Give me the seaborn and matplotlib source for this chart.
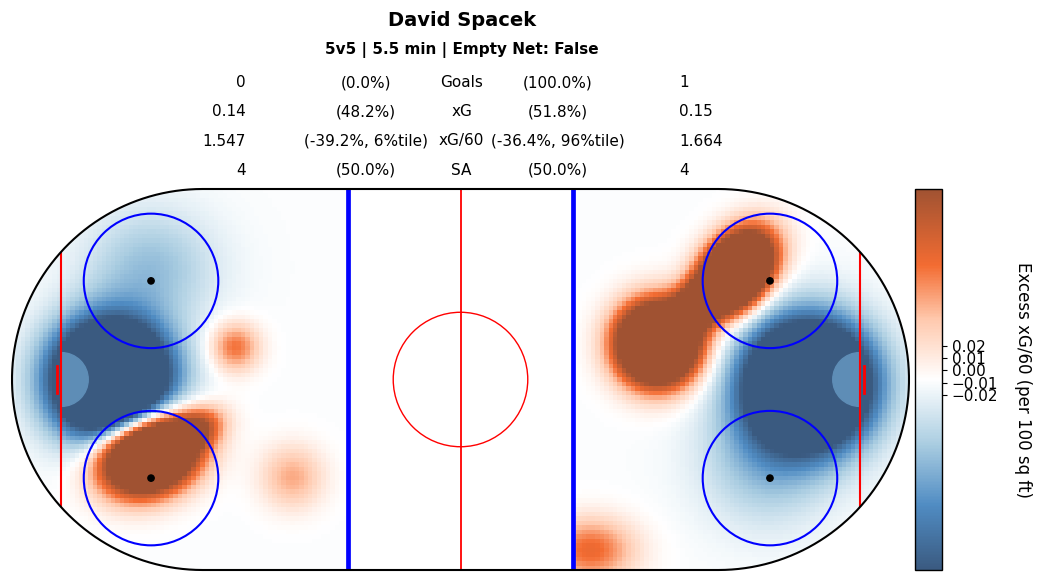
import numpy as np
import pandas as pd
import matplotlib
matplotlib.use('Agg')
import matplotlib.pyplot as plt
import matplotlib.patches as patches
from matplotlib.colors import LinearSegmentedColormap
import seaborn as sns

# header / table text
player = 'David Spacek'
subtitle = '5v5 | 5.5 min | Empty Net: False'
row_labels = ['Goals', 'xG', 'xG/60', 'SA']
left_vals = ['0', '0.14', '1.547', '4']
left_pcts = ['(0.0%)', '(48.2%)', '(-39.2%, 6%tile)', '(50.0%)']
right_pcts = ['(100.0%)', '(51.8%)', '(-36.4%, 96%tile)', '(50.0%)']
right_vals = ['1', '0.15', '1.664', '4']

# hot spots (feet, centre ice = 0,0)
spot_x = [-78.0, -69.0, -50.3, -69.5, -59.0, -37.5,
          77.5, 68.0, 44.0, 61.5, 52.5, 29.0]
spot_y = [0.0, 25.0, 7.2, -16.5, -11.0, -21.8,
          -1.0, -18.0, 8.0, 24.0, 16.5, -38.0]
spot_amp = [-0.5, -0.06, 0.095, 0.5, 0.12, 0.065,
            -0.5, -0.06, 0.5, 0.5, 0.2, 0.1]
spot_sx = [8.6, 10.0, 3.8, 7.2, 4.5, 5.0,
           9.2, 10.0, 6.0, 6.6, 4.5, 7.0]
spot_sy = [8.6, 9.0, 3.8, 5.6, 3.0, 5.0,
           9.2, 10.0, 6.0, 4.6, 3.0, 5.0]
spot_ang = [0, 0, 0, 20, 25, 0,
            0, 0, 0, 52, 50, 0]
baseline = -0.0095

cbar_ticks = [-0.02, -0.01, 0.0, 0.01, 0.02]
vmin, vmax = -0.162, 0.147

cmap = LinearSegmentedColormap.from_list('xg', [
    (0.0, '#3a5a80'), (0.17, '#508cc3'), (0.33, '#aacde1'), (0.5, '#ffffff'),
    (0.66, '#ffc8ac'), (0.8, '#f36c32'), (1.0, '#a05232')])

# 1 ft grid over the rink
xs = np.arange(-99.5, 100, 1.0)
ys = np.arange(42, -43, -1.0)
X, Y = np.meshgrid(xs, ys)
Z = np.full(X.shape, baseline)
for x0, y0, a, sx, sy, ang in zip(spot_x, spot_y, spot_amp, spot_sx, spot_sy, spot_ang):
    t = np.deg2rad(ang)
    u = (X - x0) * np.cos(t) + (Y - y0) * np.sin(t)
    v = -(X - x0) * np.sin(t) + (Y - y0) * np.cos(t)
    Z += a * np.exp(-(u ** 2 / (2 * sx ** 2) + v ** 2 / (2 * sy ** 2)))
Z[np.abs(X) < 25] = np.nan
df = pd.DataFrame(Z)

fig = plt.figure(figsize=(10.41, 5.82), dpi=100)
ax = fig.add_axes([12 / 1041, 12 / 582, 897 / 1041, 381 / 582])
cax = fig.add_axes([915 / 1041, 12 / 582, 27 / 1041, 381 / 582])

sns.heatmap(df, ax=ax, cmap=cmap, vmin=vmin, vmax=vmax, cbar_ax=cax,
            xticklabels=False, yticklabels=False, cbar_kws={'ticks': cbar_ticks})
ax.set_xlim(0, 200)
ax.set_ylim(85, 0)
ax.axis('off')


def px(x):
    return x + 100


def py(y):
    return 42.5 - y


# rink outline (semicircular ends) & clipping
th_l = np.deg2rad(np.linspace(90, 270, 90))
th_r = np.deg2rad(np.linspace(-90, 90, 90))
outline = np.vstack([
    np.column_stack([42.5 + 42.5 * np.cos(th_l), 42.5 - 42.5 * np.sin(th_l)]),
    np.column_stack([157.5 + 42.5 * np.cos(th_r), 42.5 - 42.5 * np.sin(th_r)]),
])
rink = patches.Polygon(outline, closed=True, fc='none', ec='black', lw=1.5,
                       zorder=5, clip_on=False)
ax.add_patch(rink)
clip = patches.Polygon(outline, closed=True, transform=ax.transData)
ax.collections[0].set_clip_path(clip)

# creases and goals
crease_col = '#5e8db6'
ax.add_patch(patches.Wedge((px(-89), py(0)), 6, -90, 90, color=crease_col, zorder=3))
ax.add_patch(patches.Wedge((px(89), py(0)), 6, 90, 270, color=crease_col, zorder=3))
ax.plot([px(-90), px(-90)], [py(-3), py(3)], color='red', lw=2, zorder=4)
ax.plot([px(90), px(90)], [py(-3), py(3)], color='red', lw=2, zorder=4)

# lines
for gx in [-89, 89]:
    ln, = ax.plot([px(gx), px(gx)], [0, 85], color='red', lw=1.5, zorder=4)
    ln.set_clip_path(clip)
ax.plot([px(0), px(0)], [0, 85], color='red', lw=1.3, zorder=4)
for bx in [-25, 25]:
    ax.plot([px(bx), px(bx)], [0, 85], color='blue', lw=3.4, zorder=4)
ax.add_patch(patches.Circle((px(0), py(0)), 15, fill=False, ec='red', lw=1, zorder=4))
for fx in [-69, 69]:
    for fy in [-22, 22]:
        ax.add_patch(patches.Circle((px(fx), py(fy)), 15, fill=False, ec='blue', lw=1.5, zorder=4))
        ax.add_patch(patches.Circle((px(fx), py(fy)), 0.7, color='black', zorder=4))

# colorbar
cbar = ax.collections[0].colorbar
cbar.outline.set_linewidth(1)
cax.tick_params(labelsize=11)
cbar.set_label('Excess xG/60 (per 100 sq ft)', rotation=270, fontsize=12, labelpad=24)

# header
cx = 462 / 1041
fig.text(cx, 1 - 20 / 582, player, ha='center', va='center', fontsize=14, fontweight='bold')
fig.text(cx, 1 - 50 / 582, subtitle, ha='center', va='center', fontsize=11, fontweight='bold')
row_y = [83, 112, 141, 170]
for i in range(4):
    yy = 1 - row_y[i] / 582
    fig.text(246 / 1041, yy, left_vals[i], ha='right', va='center', fontsize=11)
    fig.text(366 / 1041, yy, left_pcts[i], ha='center', va='center', fontsize=11)
    fig.text(461.5 / 1041, yy, row_labels[i], ha='center', va='center', fontsize=11)
    fig.text(557.5 / 1041, yy, right_pcts[i], ha='center', va='center', fontsize=11)
    fig.text(679 / 1041, yy, right_vals[i], ha='left', va='center', fontsize=11)

fig.savefig('out.png', dpi=100)
